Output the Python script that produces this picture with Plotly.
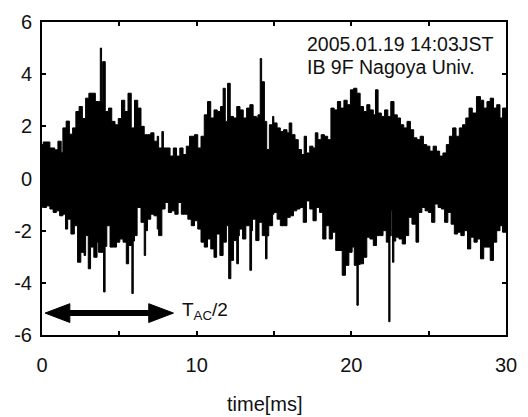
import plotly.graph_objects as go

# Upper envelope of the waveform (time in ms, amplitude)
upper_t = [0.0, 0.08, 0.51, 0.82, 1.03, 1.24, 1.35, 1.56, 1.77, 1.98, 2.19, 2.4, 2.61, 2.82, 3.03, 3.24,
           3.45, 3.66, 3.77, 3.85, 3.92, 4.09, 4.3, 4.51, 4.72, 4.93, 5.14, 5.35, 5.56, 5.77, 5.98, 6.19,
           6.4, 6.61, 6.82, 7.03, 7.24, 7.45, 7.54, 7.75, 7.85, 8.07, 8.28, 8.49, 8.7, 8.91, 9.12, 9.33,
           9.54, 9.86, 10.07, 10.28, 10.49, 10.7, 10.91, 11.12, 11.33, 11.54, 11.71, 11.85, 12.0, 12.17,
           12.38, 12.59, 12.8, 13.01, 13.23, 13.44, 13.65, 13.86, 13.96, 14.11, 14.2, 14.38, 14.53, 14.7,
           14.91, 14.99, 15.2, 15.41, 15.62, 15.84, 15.98, 16.15, 16.36, 16.57, 16.78, 16.95, 17.1, 17.31,
           17.52, 17.67, 17.84, 18.05, 18.26, 18.47, 18.68, 18.89, 19.1, 19.31, 19.52, 19.73, 19.94, 20.15,
           20.36, 20.57, 20.79, 21.0, 21.2, 21.42, 21.56, 21.73, 21.94, 22.15, 22.36, 22.55, 22.76, 22.97,
           23.18, 23.39, 23.6, 23.82, 24.03, 24.24, 24.45, 24.66, 24.87, 25.08, 25.29, 25.5, 25.71, 25.92,
           26.14, 26.34, 26.55, 26.77, 26.98, 27.19, 27.4, 27.61, 27.82, 28.09, 28.35, 28.56, 28.77, 28.98,
           29.19, 29.4, 29.61, 29.78, 30.0]
upper_v = [1.3, 1.4, 1.17, 1.1, 1.43, 1.0, 1.94, 2.2, 1.7, 1.94, 2.57, 2.76, 2.3, 3.08, 3.27, 3.27,
           2.95, 2.95, 5.0, 3.0, 4.48, 2.57, 2.7, 2.19, 2.06, 2.3, 3.0, 2.57, 3.27, 1.94, 3.0, 2.7,
           2.0, 1.68, 1.68, 1.75, 1.43, 1.62, 1.17, 1.8, 1.17, 1.17, 0.86, 1.17, 0.86, 1.17, 0.92, 1.24,
           1.62, 1.68, 1.17, 1.62, 2.44, 2.95, 2.32, 2.63, 2.57, 2.76, 3.46, 2.19, 3.65, 2.38,
           2.32, 2.76, 2.63, 2.32, 2.7, 2.83, 2.38, 2.32, 2.44, 4.6, 3.71, 2.19, 1.11, 2.06,
           2.38, 2.13, 1.94, 1.8, 1.87, 1.75, 2.13, 1.68, 1.49, 1.11, 0.92, 1.62, 0.98, 1.24,
           1.17, 1.75, 1.49, 1.68, 1.62, 1.49, 2.7, 2.63, 2.95, 2.7, 3.0, 2.83, 3.4, 3.46,
           3.27, 2.76, 2.57, 2.83, 2.63, 2.44, 3.4, 2.51, 2.38, 2.63, 2.38, 2.95, 2.44, 2.32,
           2.06, 1.94, 2.19, 1.87, 1.56, 1.49, 1.62, 1.3, 1.24, 1.05, 1.24, 1.05, 0.86, 0.98,
           1.3, 1.62, 1.94, 1.62, 1.94, 2.06, 2.32, 2.7, 2.51, 3.14, 3.0, 2.7, 2.95, 3.08,
           2.7, 2.83, 2.32, 2.7, 2.5]

# Lower envelope of the waveform
lower_t = [0.0, 0.08, 0.29, 0.51, 0.72, 0.93, 1.14, 1.35, 1.52, 1.66, 1.87, 2.09, 2.3, 2.51, 2.72, 2.82,
           2.99, 3.14, 3.35, 3.56, 3.66, 3.98, 4.08, 4.19, 4.4, 4.61, 4.82, 5.03, 5.24, 5.45, 5.6, 5.81,
           5.9, 5.98, 6.15, 6.4, 6.61, 6.7, 6.82, 7.03, 7.24, 7.45, 7.54, 7.75, 7.96, 8.17, 8.38, 8.59,
           8.8, 9.01, 9.22, 9.43, 9.65, 9.86, 10.07, 10.28, 10.49, 10.7, 10.91, 11.12, 11.29, 11.5, 11.71,
           11.92, 12.07, 12.21, 12.38, 12.59, 12.7, 12.76, 12.97, 13.18, 13.44, 13.55, 13.61, 13.82, 14.03,
           14.24, 14.45, 14.55, 14.66, 14.91, 14.99, 15.2, 15.41, 15.62, 15.84, 16.05, 16.26, 16.47, 16.68,
           16.89, 17.1, 17.31, 17.52, 17.73, 17.94, 18.15, 18.36, 18.57, 18.78, 18.99, 19.2, 19.41, 19.62,
           19.84, 20.05, 20.19, 20.36, 20.45, 20.57, 20.79, 21.0, 21.2, 21.42, 21.63, 21.84, 22.05, 22.26,
           22.42, 22.5, 22.58, 22.66, 22.75, 22.87, 23.08, 23.29, 23.5, 23.71, 23.92, 24.18, 24.35, 24.56,
           24.77, 24.98, 25.19, 25.4, 25.61, 25.82, 26.03, 26.24, 26.45, 26.66, 26.87, 27.08, 27.3, 27.51,
           27.72, 27.93, 28.14, 28.35, 28.56, 28.77, 28.98, 29.19, 29.4, 29.61, 29.78, 30.0]
lower_v = [-1.1, -1.11, -1.05, -1.17, -1.3, -1.24, -1.43, -1.37, -1.94, -1.56, -2.13, -1.81, -3.21, -2.83, -2.95, -2.19,
           -3.46, -2.63, -3.02, -2.44, -2.83, -4.35, -2.6, -1.81, -2.63, -2.63, -2.44, -2.32, -2.44, -3.27, -2.57, -4.41,
           -2.4, -2.19, -1.11, -1.68, -2.95, -2.0, -1.56, -1.37, -1.43, -1.94, -2.19, -1.17, -0.92, -1.3, -1.24, -1.37,
           -0.92, -1.37, -1.37, -1.56, -1.81, -1.62, -1.94, -2.44, -2.63, -2.32, -2.7, -3.02, -2.13, -2.95, -2.44,
           -1.81, -3.84, -3.14, -2.38, -3.27, -2.2, -1.94, -2.32, -1.81, -3.52, -2.0, -1.56, -2.38, -1.68,
           -2.19, -3.08, -2.2, -1.81, -1.37, -1.3, -1.56, -1.81, -1.81, -1.49, -1.43, -1.24, -1.17, -1.11,
           -1.68, -0.86, -1.17, -1.62, -1.11, -1.3, -2.32, -1.81, -2.32, -2.06, -2.76, -2.76, -3.71, -3.33,
           -2.83, -2.63, -3.33, -4.86, -3.3, -3.27, -3.02, -2.25, -2.32, -2.57, -2.19, -2.19, -2.0, -2.44,
           -5.49, -2.2, -1.24, -3.21, -2.4, -2.25, -2.32, -2.51, -2.19, -1.49, -1.75, -2.44, -1.3, -1.11,
           -1.24, -1.3, -1.68, -0.98, -1.11, -1.17, -1.68, -1.3, -1.75, -2.13, -2.06, -2.19, -2.0, -2.7,
           -2.25, -2.44, -2.32, -3.08, -2.63, -2.63, -3.14, -2.44, -2.0, -1.81, -2.06, -2.0]

x_tickvals = [0, 5, 10, 15, 20, 25, 30]
x_ticktext = ["0", "", "10", "", "20", "", "30"]
y_tickvals = [-6, -4, -2, 0, 2, 4, 6]
y_ticktext = ["-6", "-4", "-2", "0", "2", "4", "6"]

fig = go.Figure()
fig.add_trace(go.Scatter(
    x=upper_t, y=upper_v, mode="lines", line=dict(color="black", width=1, shape="hv"),
    showlegend=False, hoverinfo="skip"))
fig.add_trace(go.Scatter(
    x=lower_t, y=lower_v, mode="lines", line=dict(color="black", width=1, shape="hv"),
    fill="tonexty", fillcolor="black", showlegend=False, hoverinfo="skip"))

FONT = "Liberation Sans, Arial, Helvetica, sans-serif"
TXT = "#111111"

fig.update_layout(
    width=528, height=417,
    margin=dict(l=42, r=11, t=20, b=82),
    paper_bgcolor="white", plot_bgcolor="white",
    font=dict(family=FONT, color=TXT),
    showlegend=False,
    xaxis=dict(range=[0, 30], tickmode="array", tickvals=x_tickvals, ticktext=x_ticktext,
               ticks="inside", ticklen=4, tickwidth=2, tickcolor="black",
               showline=True, linewidth=2, linecolor="black", mirror="ticks",
               showgrid=False, zeroline=False, tickfont=dict(size=20, family=FONT, color=TXT),
               ticklabelstandoff=11),
    yaxis=dict(range=[-6, 6], tickmode="array", tickvals=y_tickvals, ticktext=y_ticktext,
               ticks="inside", ticklen=4, tickwidth=2, tickcolor="black",
               showline=True, linewidth=2, linecolor="black", mirror="ticks",
               showgrid=False, zeroline=False, tickfont=dict(size=20, family=FONT, color=TXT),
               ticklabelstandoff=4),
)

# Double-headed arrow (T_AC/2)
ya = -5.16
fig.add_shape(type="line", xref="x", yref="y", x0=1.4, x1=7.3, y0=ya, y1=ya,
              line=dict(color="black", width=6))
fig.add_shape(type="path", xref="x", yref="y",
              path=f"M 0.2 {ya} L 1.8 {ya+0.36} L 1.8 {ya-0.36} Z",
              fillcolor="black", line=dict(color="black", width=1))
fig.add_shape(type="path", xref="x", yref="y",
              path=f"M 8.5 {ya} L 6.9 {ya+0.36} L 6.9 {ya-0.36} Z",
              fillcolor="black", line=dict(color="black", width=1))

fig.add_annotation(x=0.297, y=0.076, xref="paper", yref="paper", xanchor="left", yanchor="middle",
                   text="T<sub>AC</sub>/2", showarrow=False, font=dict(size=19, color=TXT))
fig.add_annotation(x=0.566, y=0.930, xref="paper", yref="paper", xanchor="left", yanchor="middle",
                   text="2005.01.19 14:03JST", showarrow=False, font=dict(size=19.5, color=TXT))
fig.add_annotation(x=0.566, y=0.857, xref="paper", yref="paper", xanchor="left", yanchor="middle",
                   text="IB 9F Nagoya Univ.", showarrow=False, font=dict(size=19.5, color=TXT))
fig.add_annotation(x=0.48, y=-0.219, xref="paper", yref="paper", xanchor="center", yanchor="middle",
                   text="time[ms]", showarrow=False, font=dict(size=20, color=TXT))

fig.write_html("out.html")
